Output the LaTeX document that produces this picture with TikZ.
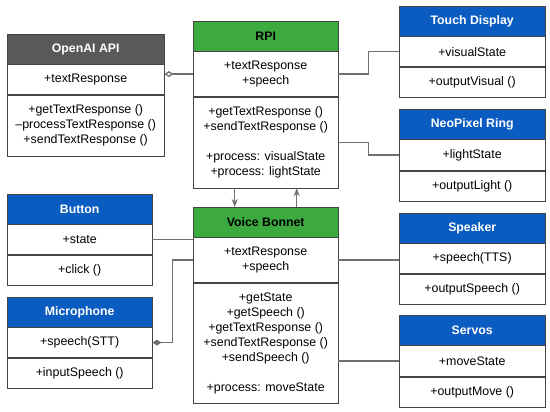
\documentclass[tikz,border=0pt]{standalone}
\usepackage{fontspec}
\setmainfont{Liberation Sans}
\usepackage{xcolor}
\usepackage{tikz}
\usetikzlibrary{calc, arrows.meta, positioning}

\definecolor{hdrblue}{HTML}{0B5CC0}
\definecolor{hdrgreen}{HTML}{3DAA40}
\definecolor{hdrgray}{HTML}{595959}
\definecolor{boxline}{HTML}{444444}
\definecolor{linkline}{HTML}{707070}

% one UML class: name, position, width, header style, title, attributes, attr height, methods, methods height
\newcommand{\umlclass}[9]{%
    \node[hdr, #4, minimum width=#3] (#1-hdr) at (#2) {#5};
    \node[sec, minimum width=#3, minimum height=#7, below=0pt of #1-hdr] (#1-attr) {#6};
    \node[sec, minimum width=#3, minimum height=#9, below=0pt of #1-attr] (#1-mth) {#8};
}

\begin{document}
\begin{tikzpicture}[x=1pt, y=-1pt, >={Stealth[length=8pt, width=6pt]},
    hdr/.style={draw=boxline, anchor=north west, minimum height=30pt, inner sep=0pt,
        font=\fontsize{12.3}{14}\selectfont\bfseries, text=white},
    blue/.style={fill=hdrblue},
    green/.style={fill=hdrgreen, text=black},
    dark/.style={fill=hdrgray},
    sec/.style={draw=boxline, fill=white, inner sep=0pt, align=center,
        font=\fontsize{12.4}{15}\selectfont},
    link/.style={draw=linkline, line width=1.3pt}]
    \useasboundingbox (0,0) rectangle (550,412);

    % 1. Classes
    \umlclass{oai}{7,34}{157pt}{dark}{OpenAI API}{+textResponse}{30pt}
        {+getTextResponse ()\\--processTextResponse ()\\+sendTextResponse ()}{61pt}
    \umlclass{rpi}{193,21}{145pt}{green}{RPI}{+textResponse\\+speech}{45pt}
        {+getTextResponse ()\\+sendTextResponse ()\\[15pt]+process: visualState\\+process: lightState}{91pt}
    \umlclass{tch}{399,6}{146pt}{blue}{Touch Display}{+visualState}{30pt}{+outputVisual ()}{30pt}
    \umlclass{neo}{399,109}{146pt}{blue}{NeoPixel Ring}{+lightState}{31pt}{+outputLight ()}{30pt}
    \umlclass{btn}{7,194}{145pt}{blue}{Button}{+state}{30pt}{+click ()}{30pt}
    \umlclass{mic}{7,297}{145pt}{blue}{Microphone}{+speech(STT)}{30pt}{+inputSpeech ()}{30pt}
    \umlclass{vb}{193,207}{145pt}{green}{Voice Bonnet}{+textResponse\\+speech}{45pt}
        {+getState\\+getSpeech ()\\+getTextResponse ()\\+sendTextResponse ()\\+sendSpeech ()\\[15pt]+process: moveState}{120pt}
    \umlclass{spk}{399,213}{146pt}{blue}{Speaker}{+speech(TTS)}{30pt}{+outputSpeech ()}{30pt}
    \umlclass{srv}{399,315}{146pt}{blue}{Servos}{+moveState}{31pt}{+outputMove ()}{30pt}

    % 2. Connectors
    \draw[link, {Diamond[open, length=9pt, width=6pt]}-] (rpi-attr.west -| oai-attr.east) -- (rpi-attr.west);
    \draw[link] (rpi-attr.east) -- ++(30,0) |- (tch-attr.west);
    \draw[link] (rpi-mth.east) -- ++(30,0) |- (neo-attr.west);
    \draw[link, ->] ($(rpi-mth.south)+(-31,0)$) -- ($(vb-hdr.north)+(-31,0)$);
    \draw[link, ->] ($(vb-hdr.north)+(31,0)$) -- ($(rpi-mth.south)+(31,0)$);
    \draw[link] (btn-attr.east) -- (btn-attr.east -| vb-attr.west);
    \draw[link, {Diamond[length=9pt, width=6pt]}-] (mic-attr.east) -- ++(20,0) |- (vb-attr.west);
    \draw[link] (vb-attr.east) -- (vb-attr.east -| spk-attr.west);
    \draw[link] (srv-attr.west -| vb-mth.east) -- (srv-attr.west);

\end{tikzpicture}
\end{document}
